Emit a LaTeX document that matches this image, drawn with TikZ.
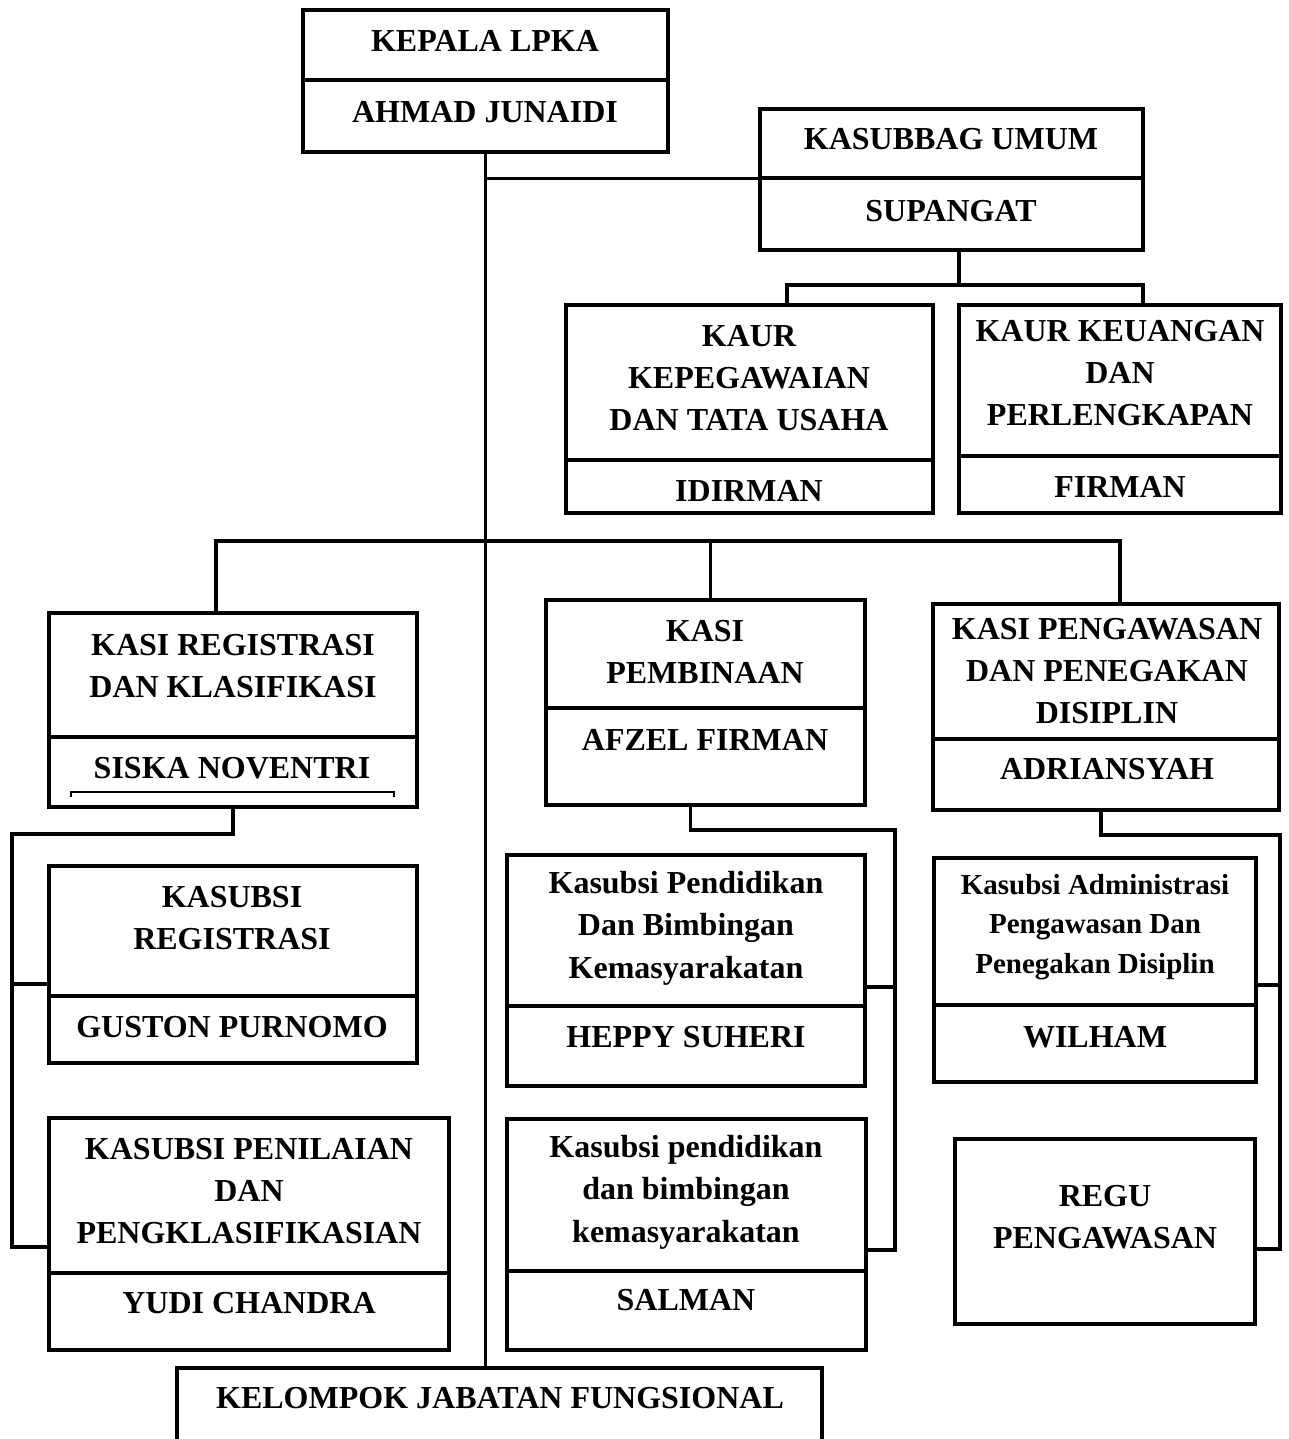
\documentclass[tikz,border=0pt]{standalone}
\usepackage{fontspec}
\setmainfont{Liberation Serif}
\usetikzlibrary{positioning}

\tikzset{
  box/.style={draw, line width=2pt, anchor=north west, inner sep=0pt, outer sep=0pt},
  conn/.style={line width=1.6pt},
  txt/.style={align=center, inner sep=0pt, font=\bfseries\fontsize{16}{21.2}\selectfont},
  smalltxt/.style={align=center, inner sep=0pt, font=\bfseries\fontsize{14.5}{19.6}\selectfont}
}

\begin{document}
\begin{tikzpicture}[x=0.5pt, y=-0.5pt]
\useasboundingbox (0,0) rectangle (1289,1439);

\node[box, minimum width=182.5pt, minimum height=35pt] (kepala) at (303,10) {};
\node[box, minimum width=182.5pt, minimum height=36pt, below=0pt of kepala] (kepalaN) {};

\node[box, minimum width=191.5pt, minimum height=34.75pt] (kasubbag) at (760,109) {};
\node[box, minimum width=191.5pt, minimum height=35.75pt, below=0pt of kasubbag] (kasubbagN) {};

\node[box, minimum width=183.5pt, minimum height=77.5pt] (kaurpeg) at (566,305) {};
\node[box, minimum width=183.5pt, minimum height=26.5pt, below=0pt of kaurpeg] (kaurpegN) {};

\node[box, minimum width=161pt, minimum height=75.5pt] (kaurkeu) at (959,305) {};
\node[box, minimum width=161pt, minimum height=28.5pt, below=0pt of kaurkeu] (kaurkeuN) {};

\node[box, minimum width=184pt, minimum height=62pt] (kasireg) at (49,613) {};
\node[box, minimum width=184pt, minimum height=35pt, below=0pt of kasireg] (kasiregN) {};

\node[box, minimum width=159.5pt, minimum height=54pt] (kasibina) at (546,600) {};
\node[box, minimum width=159.5pt, minimum height=48.5pt, below=0pt of kasibina] (kasibinaN) {};

\node[box, minimum width=173pt, minimum height=67.5pt] (kasiwas) at (933,604) {};
\node[box, minimum width=173pt, minimum height=35.5pt, below=0pt of kasiwas] (kasiwasN) {};

\node[box, minimum width=184pt, minimum height=65pt] (subreg) at (49,866) {};
\node[box, minimum width=184pt, minimum height=33.5pt, below=0pt of subreg] (subregN) {};

\node[box, minimum width=200pt, minimum height=77.5pt] (subnilai) at (49,1118) {};
\node[box, minimum width=200pt, minimum height=38.5pt, below=0pt of subnilai] (subnilaiN) {};

\node[box, minimum width=179pt, minimum height=75.5pt] (subdik) at (507,855) {};
\node[box, minimum width=179pt, minimum height=40pt, below=0pt of subdik] (subdikN) {};

\node[box, minimum width=179.5pt, minimum height=76pt] (subdikk) at (507,1119) {};
\node[box, minimum width=179.5pt, minimum height=39.5pt, below=0pt of subdikk] (subdikkN) {};

\node[box, minimum width=161pt, minimum height=73.5pt] (subadm) at (934,858) {};
\node[box, minimum width=161pt, minimum height=38.5pt, below=0pt of subadm] (subadmN) {};

\node[box, minimum width=150pt, minimum height=92.5pt] (regu) at (955,1139) {};

\node[box, minimum width=322.5pt, minimum height=55pt] (kelompok) at (177,1368) {};

\node[txt] (kepalaT) at (485,41) {KEPALA LPKA};
\node[txt] (kepalaNT) at (485,112) {AHMAD JUNAIDI};
\node[txt] (kasubbagT) at (951,139) {KASUBBAG UMUM};
\node[txt] (kasubbagNT) at (951,211) {SUPANGAT};
\node[txt] (kaurpegT) at (749,378) {KAUR\\KEPEGAWAIAN\\DAN TATA USAHA};
\node[txt] (kaurpegNT) at (749,491) {IDIRMAN};
\node[txt] (kaurkeuT) at (1120,373) {KAUR KEUANGAN\\DAN\\PERLENGKAPAN};
\node[txt] (kaurkeuNT) at (1120,487) {FIRMAN};
\node[txt] (kasiregT) at (233,666) {KASI REGISTRASI\\DAN KLASIFIKASI};
\node[txt] (kasiregNT) at (232,768) {SISKA NOVENTRI};
\node[txt] (kasibinaT) at (705,652) {KASI\\PEMBINAAN};
\node[txt] (kasibinaNT) at (705,740) {AFZEL FIRMAN};
\node[txt] (kasiwasT) at (1107,671) {KASI PENGAWASAN\\DAN PENEGAKAN\\DISIPLIN};
\node[txt] (kasiwasNT) at (1107,769) {ADRIANSYAH};
\node[txt] (subregT) at (232,918) {KASUBSI\\REGISTRASI};
\node[txt] (subregNT) at (232,1027) {GUSTON PURNOMO};
\node[txt] (subnilaiT) at (249,1191) {KASUBSI PENILAIAN\\DAN\\PENGKLASIFIKASIAN};
\node[txt] (subnilaiNT) at (249,1303) {YUDI CHANDRA};
\node[txt] (subdikT) at (686,928) {Kasubsi Pendidikan\\Dan Bimbingan\\Kemasyarakatan};
\node[txt] (subdikNT) at (686,1037) {HEPPY SUHERI};
\node[txt] (subdikkT) at (686,1192) {Kasubsi pendidikan\\dan bimbingan\\kemasyarakatan};
\node[txt] (subdikkNT) at (686,1300) {SALMAN};
\node[smalltxt] (subadmT) at (1095,927) {Kasubsi Administrasi\\Pengawasan Dan\\Penegakan Disiplin};
\node[txt] (subadmNT) at (1095,1037) {WILHAM};
\node[txt] (reguT) at (1105,1217) {REGU\\PENGAWASAN};
\node[txt] (kelompokT) at (500,1398) {KELOMPOK JABATAN FUNGSIONAL};

\draw[line width=1.3pt] ([xshift=11pt,yshift=5pt]kasiregN.south west) |- ([xshift=-11.5pt,yshift=7.5pt]kasiregN.south east) -- ([xshift=-11.5pt,yshift=5pt]kasiregN.south east);

\coordinate (branch) at (486,541);
\coordinate (kaurbar) at (959,285);
\coordinate (leftrail) at (12,834);
\coordinate (midrail) at (895,830);
\coordinate (rightrail) at (1280,835);

\draw[conn] (kepalaN.south) -- (kepalaN.south |- kelompok.north);
\draw[conn] (kepalaN.south |- kasubbag.south west) -- (kasubbag.south west);

\draw[conn] (kaurbar |- kasubbagN.south) -- (kaurbar);
\draw[conn] ([xshift=18.75pt]kaurpeg.north) |- (kaurbar) -| ([xshift=11.5pt]kaurkeu.north);

\draw[conn] ([xshift=-8.5pt]kasireg.north) |- (branch) -| ([xshift=7pt]kasiwas.north);
\draw[conn] ([xshift=2.5pt]kasibina.north) -- ([xshift=2.5pt]kasibina.north |- branch);

\draw[conn] (kasiregN.south) |- (leftrail) |- ([yshift=-25.75pt]subnilai.west);
\draw[conn] ([yshift=-26.5pt]subreg.west) -| (leftrail);

\draw[conn] ([xshift=-7.5pt]kasibinaN.south) |- (midrail) |- ([yshift=-27.5pt]subdikk.east);
\draw[conn] ([yshift=-28.25pt]subdik.east) -| (midrail);

\draw[conn] ([xshift=-2.5pt]kasiwasN.south) |- (rightrail) |- ([yshift=-8.75pt]regu.east);
\draw[conn] ([yshift=-26.75pt]subadm.east) -| (rightrail);
\end{tikzpicture}
\end{document}
